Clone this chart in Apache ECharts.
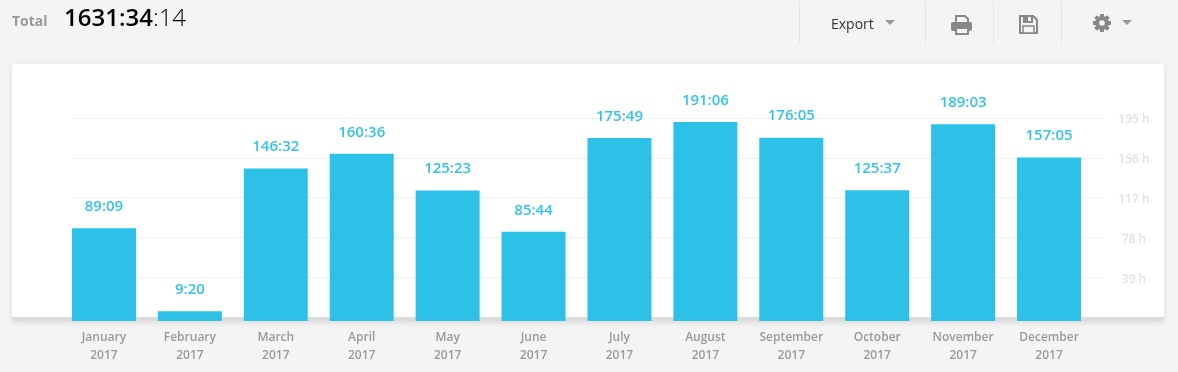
<!DOCTYPE html>
<html><head><meta charset="utf-8">
<style>html,body{margin:0;padding:0;background:#f4f4f4}#c{width:1178px;height:372px}</style>
<script src="https://cdn.jsdelivr.net/npm/echarts@6/dist/echarts.min.js"></script>
</head><body><div id="c"></div>
<script>
const months = ['January','February','March','April','May','June','July','August','September','October','November','December'];
const year = '2017';
const hours = [89.15, 9.33, 146.53, 160.6, 125.38, 85.73, 175.82, 191.1, 176.08, 125.62, 189.05, 157.08];
const durations = ['89:09','9:20','146:32','160:36','125:23','85:44','175:49','191:06','176:05','125:37','189:03','157:05'];
const tickStep = 39, tickMax = 195;
const totalMain = '1631:34', totalSeconds = ':14';

const font = '"Open Sans", "Noto Sans", sans-serif';
const chart = echarts.init(document.getElementById('c'), null, {renderer:'canvas'});
const grey = '#888888', bg = '#f4f4f4';
const divider = x => ({type:'line', shape:{x1:x+.5,y1:2,x2:x+.5,y2:44}, style:{stroke:'#e4e4e4',lineWidth:1}, z:1});
const tri = (x,y) => ({type:'polygon', shape:{points:[[x,y],[x+10,y],[x+5,y+5]]}, style:{fill:'#999'}, z:1});
const gearTeeth = [0,45,90,135].map(a => {
  const r = a*Math.PI/180, c = 1102, d = 23;
  return {type:'line', shape:{x1:c-9*Math.cos(r),y1:d-9*Math.sin(r),x2:c+9*Math.cos(r),y2:d+9*Math.sin(r)}, style:{stroke:grey,lineWidth:4}, z:1};
});
chart.setOption({
  animation:false,
  backgroundColor:bg,
  graphic:[
    {type:'rect', shape:{x:12,y:64,width:1152,height:257}, style:{fill:'#dcdcdc',shadowBlur:6,shadowColor:'rgba(0,0,0,.10)',shadowOffsetY:2}, z:-10},
    {type:'rect', shape:{x:12,y:64,width:1152,height:253}, style:{fill:'#fff'}, z:-9},
    {type:'text', x:12, y:22, style:{text:'Total', font:'700 14px '+font, fill:'#999', verticalAlign:'middle'}, z:1},
    {type:'text', x:64, y:19, style:{text:'{a|'+totalMain+'}{b|'+totalSeconds+'}', verticalAlign:'middle',
      rich:{a:{fontFamily:'"Open Sans"',fontSize:24,fontWeight:600,color:'#2a2a2a'},b:{fontFamily:'"Open Sans"',fontSize:24,fontWeight:300,color:'#aaa'}}}, z:1},
    divider(799), divider(925), divider(993), divider(1061),
    {type:'text', x:831, y:25, style:{text:'Export', font:'14px '+font, fill:'#333', verticalAlign:'middle'}, z:1},
    tri(885,20), tri(1122,20),
    // printer
    {type:'polygon', shape:{points:[[956,16],[965,16],[968,19],[968,25],[956,25]]}, style:{fill:bg,stroke:grey,lineWidth:2}, z:1},
    {type:'rect', shape:{x:951,y:22,width:21,height:9,r:2}, style:{fill:grey}, z:2},
    {type:'rect', shape:{x:956,y:28,width:12,height:6}, style:{fill:bg,stroke:grey,lineWidth:2}, z:3},
    // floppy
    {type:'polygon', shape:{points:[[1020,16],[1033,16],[1037,20],[1037,33],[1020,33]]}, style:{fill:bg,stroke:grey,lineWidth:2}, z:1},
    {type:'rect', shape:{x:1023,y:16,width:10,height:7}, style:{fill:grey}, z:2},
    {type:'rect', shape:{x:1028,y:17,width:3,height:4}, style:{fill:bg}, z:3},
    {type:'rect', shape:{x:1023,y:26,width:11,height:7}, style:{fill:bg,stroke:grey,lineWidth:1.5}, z:2},
    // gear
    ...gearTeeth,
    {type:'ring', shape:{cx:1102,cy:23,r:7,r0:2.8}, style:{fill:grey}, z:2},
    {type:'circle', shape:{cx:1102,cy:23,r:2.8}, style:{fill:bg}, z:3}
  ],
  grid:[
    {left:61, width:1031, top:118, height:203},
    {left:72, width:1031, top:118, height:199}
  ],
  xAxis:[
    {type:'category', gridIndex:0, data:months, axisLine:{show:false}, axisTick:{show:false},
     axisLabel:{interval:0, margin:8, fontFamily:font, fontSize:12, fontWeight:600, color:'#999', lineHeight:18,
       formatter:v=>v+'\n'+year}},
    {type:'value', gridIndex:1, show:false, min:0, max:1}
  ],
  yAxis:[
    {type:'value', gridIndex:0, min:0, max:tickMax, show:false},
    {type:'value', gridIndex:1, position:'right', min:0, max:tickMax, interval:tickStep,
     axisLine:{show:false}, axisTick:{show:false},
     splitLine:{show:true, showMinLine:false, lineStyle:{type:'dotted',color:'#e2e2e2',width:1}},
     axisLabel:{margin:31, align:'center',
       rich:{t:{fontFamily:font, fontSize:12, fontWeight:600, color:'#e2e2e2', padding:[4,0,0,0]}},
       formatter:v=>v===0?'':'{t|'+v+' h}'}}
  ],
  series:[{
    type:'bar', xAxisIndex:0, yAxisIndex:0, data:hours, barWidth:64, z:5,
    itemStyle:{color:'#2dc1e8'},
    label:{show:true, position:'top', distance:14, fontFamily:font, fontSize:15, fontWeight:600, color:'#35c3ea',
      formatter:p=>durations[p.dataIndex]}
  }]
});
</script></body></html>
